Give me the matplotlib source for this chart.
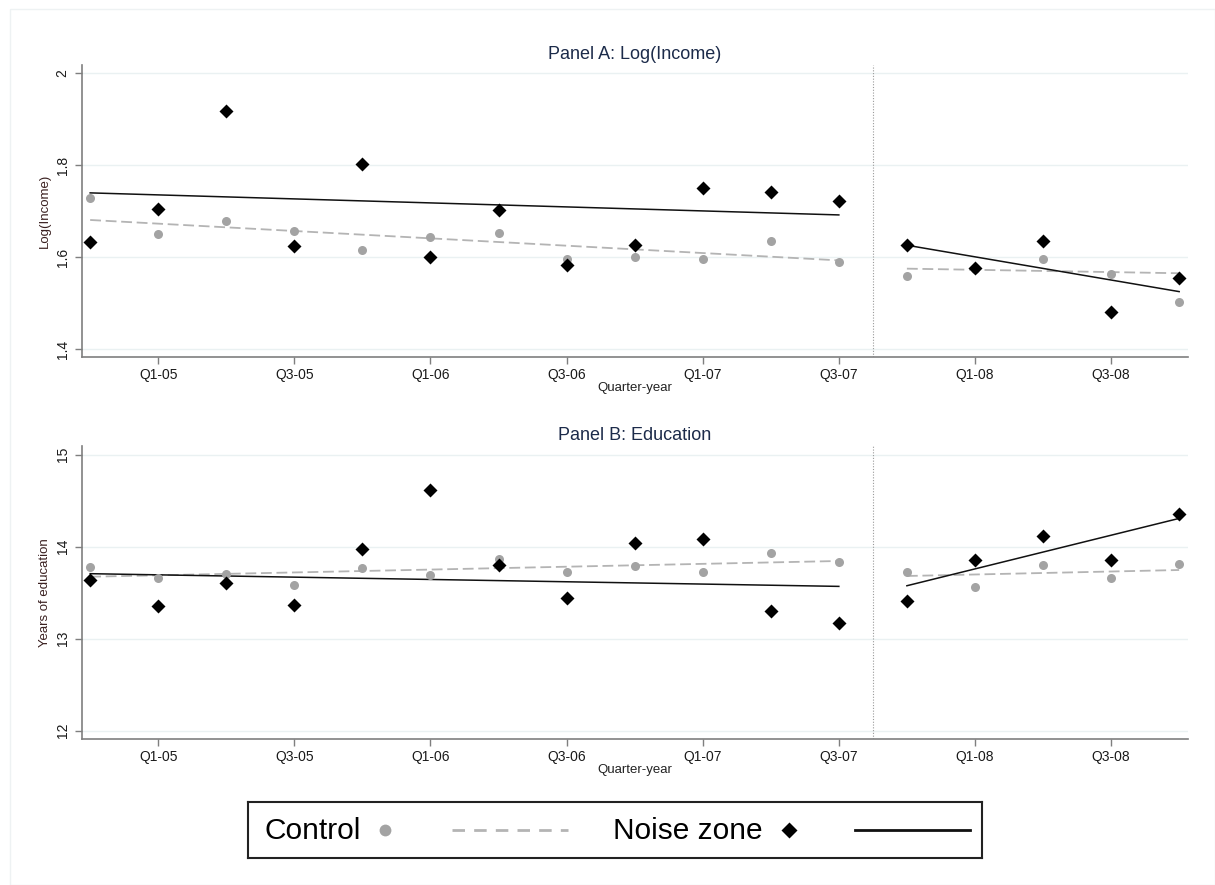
import matplotlib
matplotlib.use("Agg")
import matplotlib.pyplot as plt
import numpy as np
from matplotlib.lines import Line2D
from matplotlib.patches import Rectangle

plt.rcParams["font.family"] = ["Liberation Sans", "DejaVu Sans"]

# quarters Q4-04 .. Q4-08, index 0..16; program start between Q3-07 and Q4-07
quarters = np.arange(17)
tick_pos = [1, 3, 5, 7, 9, 11, 13, 15]
tick_labels = ["Q1-05", "Q3-05", "Q1-06", "Q3-06", "Q1-07", "Q3-07", "Q1-08", "Q3-08"]
cutoff = 11.5

# Panel A: log income by quarter
inc_control = [1.729, 1.651, 1.679, 1.656, 1.616, 1.645, 1.652, 1.596, 1.600,
               1.595, 1.636, 1.590, 1.559, 1.574, 1.597, 1.563, 1.502]
inc_noise = [1.634, 1.705, 1.919, 1.624, 1.803, 1.600, 1.703, 1.583, 1.627,
             1.751, 1.741, 1.722, 1.626, 1.576, 1.635, 1.481, 1.554]
# fitted trend endpoints (pre: Q4-04..Q3-07, post: Q4-07..Q4-08)
inc_control_fit_pre = [1.681, 1.593]
inc_noise_fit_pre = [1.740, 1.692]
inc_control_fit_post = [1.575, 1.565]
inc_noise_fit_post = [1.626, 1.525]

# Panel B: years of education by quarter
edu_control = [13.779, 13.656, 13.707, 13.584, 13.768, 13.696, 13.863, 13.729, 13.794,
               13.725, 13.935, 13.830, 13.729, 13.558, 13.798, 13.660, 13.812]
edu_noise = [13.641, 13.352, 13.605, 13.366, 13.978, 14.613, 13.804, 13.442, 14.037,
             14.080, 13.304, 13.167, 13.410, 13.855, 14.116, 13.859, 14.355]
edu_control_fit_pre = [13.674, 13.845]
edu_noise_fit_pre = [13.707, 13.569]
edu_control_fit_post = [13.682, 13.747]
edu_noise_fit_post = [13.576, 14.308]

pre_span = [0, 11]
post_span = [12, 16]

gray = "#a3a3a3"
dash_gray = "#b4b4b4"
title_col = "#1c2b4a"
axis_col = "#7f7f7f"
grid_col = "#eaf1f2"

fig = plt.figure(figsize=(12.15, 8.85), dpi=100)
W, H = 1215, 885

# faint outer frame of the graph region
fig.patches.append(Rectangle((10 / W, 0), 1 - 10 / W, 1 - 9 / H, transform=fig.transFigure,
                             fill=False, edgecolor="#eef2f3", linewidth=1))


def panel(ax, title, ylabel, control, noise, cfits, nfits, yticks, ylim):
    ax.set_xlim(-0.12, 16.13)
    ax.set_ylim(*ylim)
    for y in yticks:
        ax.axhline(y, color=grid_col, lw=1.0, zorder=0)
    ax.axvline(cutoff, color="#9a9a9a", lw=0.8, ls=(0, (1, 1.5)), zorder=1)

    ax.plot(quarters, control, "o", color=gray, ms=6.5, mec="none", zorder=3)
    ax.plot(quarters, noise, "D", color="black", ms=7, mec="none", zorder=4)

    for span, fit in zip([pre_span, post_span], cfits):
        ax.plot(span, fit, color=dash_gray, lw=1.3, dashes=(6, 2.6), zorder=2)
    for span, fit in zip([pre_span, post_span], nfits):
        ax.plot(span, fit, color="#111111", lw=1.1, zorder=2)

    ax.set_yticks(yticks)
    ax.set_yticklabels([f"{v:g}" for v in yticks], rotation=90, va="center",
                       fontsize=10, color="#1a1a1a")
    ax.set_xticks(tick_pos)
    ax.set_xticklabels(tick_labels, fontsize=10, color="#1a1a1a")
    ax.tick_params(axis="both", colors=axis_col, length=5, width=1, labelcolor="#1a1a1a")
    ax.tick_params(axis="x", pad=3)
    ax.tick_params(axis="y", pad=4)
    for s in ["top", "right"]:
        ax.spines[s].set_visible(False)
    for s in ["left", "bottom"]:
        ax.spines[s].set_color(axis_col)
        ax.spines[s].set_linewidth(1.2)
    ax.set_title(title, fontsize=13, color=title_col, pad=4)
    ax.set_ylabel(ylabel, fontsize=9.5, color="#3a2020", labelpad=3)
    ax.set_xlabel("Quarter-year", fontsize=9.5, color="#222222", labelpad=0)


axA = fig.add_axes([82 / W, 1 - 357 / H, 1106 / W, 292 / H])
panel(axA, "Panel A: Log(Income)", "Log(Income)", inc_control, inc_noise,
      [inc_control_fit_pre, inc_control_fit_post], [inc_noise_fit_pre, inc_noise_fit_post],
      [1.4, 1.6, 1.8, 2.0], (1.3826, 2.0185))

axB = fig.add_axes([82 / W, 1 - 739 / H, 1106 / W, 293 / H])
panel(axB, "Panel B: Education", "Years of education", edu_control, edu_noise,
      [edu_control_fit_pre, edu_control_fit_post], [edu_noise_fit_pre, edu_noise_fit_post],
      [12, 13, 14, 15], (11.91, 15.095))

# legend box below the panels
leg = fig.add_axes([248 / W, 1 - 858 / H, 734 / W, 56 / H])
leg.set_xlim(0, 734)
leg.set_ylim(0, 56)
leg.set_xticks([])
leg.set_yticks([])
for s in leg.spines.values():
    s.set_color("#222222")
    s.set_linewidth(1.5)
ymid = 27
leg.text(17, ymid, "Control", fontsize=21.5, va="center", ha="left", color="black")
leg.add_line(Line2D([137], [ymid + 1], marker="o", color=gray, ms=8.5, mec="none", ls="none"))
leg.add_line(Line2D([204, 320], [ymid + 1, ymid + 1], color=dash_gray, lw=2, dashes=(4.5, 3.3)))
leg.text(365, ymid, "Noise zone", fontsize=21.5, va="center", ha="left", color="black")
leg.add_line(Line2D([541], [ymid + 1], marker="D", color="black", ms=8.5, mec="none", ls="none"))
leg.add_line(Line2D([607, 722], [ymid + 1, ymid + 1], color="#111111", lw=2))

fig.savefig("out.png", dpi=100, facecolor="white")
